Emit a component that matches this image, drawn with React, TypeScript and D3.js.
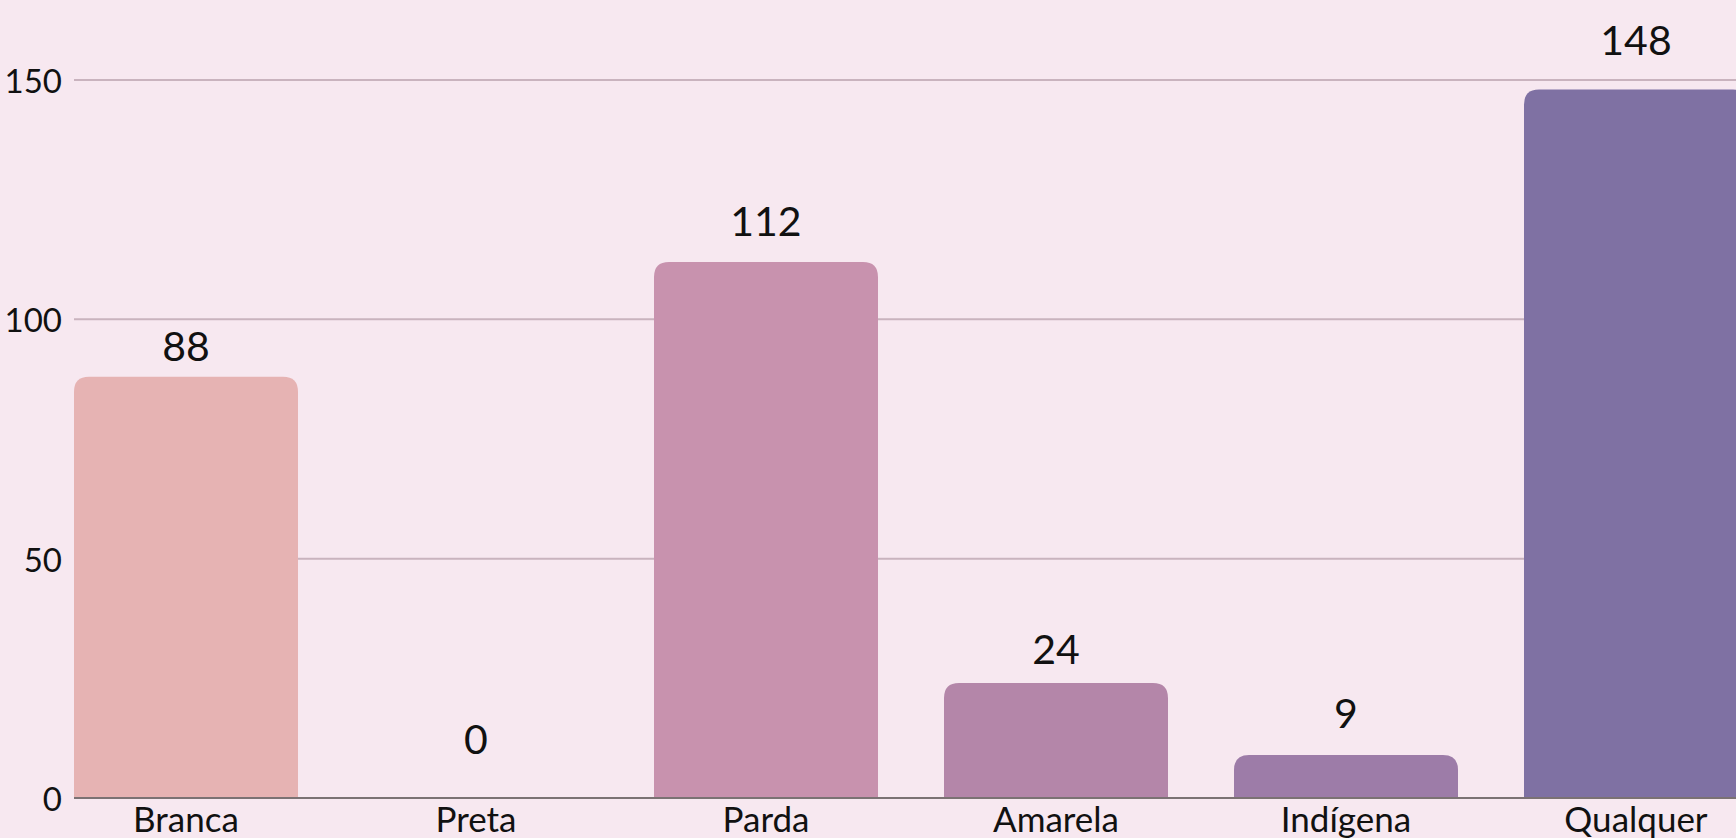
import React from "react";
import * as d3 from "d3";

const categories = ["Branca", "Preta", "Parda", "Amarela", "Indígena", "Qualquer"];
const values = [88, 0, 112, 24, 9, 148];
const barColors = ["#e6b3b3", "#e8b7c4", "#c892ae", "#b486a9", "#9d7ca8", "#7f71a3"];
const yTicks = [0, 50, 100, 150];

const W = 1736;
const H = 838;

// gap (px) between bar top and its value label baseline, as seen in the reference
const labelGaps = [16, 44, 26, 19, 27, 35];

function roundedTopBar(x: number, y: number, w: number, h: number, r: number) {
  if (h <= 0) return "";
  const rr = Math.min(r, h, w / 2);
  return `M${x},${y + h}V${y + rr}Q${x},${y} ${x + rr},${y}H${x + w - rr}Q${x + w},${y} ${x + w},${y + rr}V${y + h}Z`;
}

export default function App() {
  const x = d3
    .scaleBand<string>()
    .domain(categories)
    .range([74, 1748])
    .paddingInner(0.2276)
    .paddingOuter(0);
  const y = d3.scaleLinear().domain([0, 150]).range([798, 80]);
  const font = "Lato, 'Open Sans', sans-serif";

  return (
    <svg
      width={W}
      height={H}
      style={{ position: "absolute", left: 0, top: 0, background: "#f7e8f0" }}
    >
      <rect x={0} y={0} width={W} height={H} fill="#f7e8f0" />
      {yTicks
        .filter((t) => t > 0)
        .map((t) => (
          <line key={t} x1={74} x2={W} y1={y(t)} y2={y(t)} stroke="#c9b3be" strokeWidth={2} />
        ))}
      {yTicks.map((t) => (
        <text
          key={"l" + t}
          x={62}
          y={y(t)}
          textAnchor="end"
          dominantBaseline="central"
          fontFamily={font}
          fontSize={33}
          fill="#111"
        >
          {t}
        </text>
      ))}
      {categories.map((c, i) => {
        const bx = x(c)!;
        const bw = x.bandwidth();
        const by = y(values[i]);
        const bh = y(0) - by;
        return (
          <g key={c}>
            <path d={roundedTopBar(bx, by, bw, bh, 15)} fill={barColors[i]} />
            <text
              x={bx + bw / 2}
              y={by - labelGaps[i]}
              textAnchor="middle"
              fontFamily={font}
              fontSize={41}
              fill="#111"
            >
              {values[i]}
            </text>
            <text
              x={bx + bw / 2}
              y={832}
              textAnchor="middle"
              fontFamily={font}
              fontSize={35}
              fill="#111"
            >
              {c}
            </text>
          </g>
        );
      })}
      <line x1={74} x2={W} y1={y(0)} y2={y(0)} stroke="#7b7273" strokeWidth={2} />
    </svg>
  );
}
